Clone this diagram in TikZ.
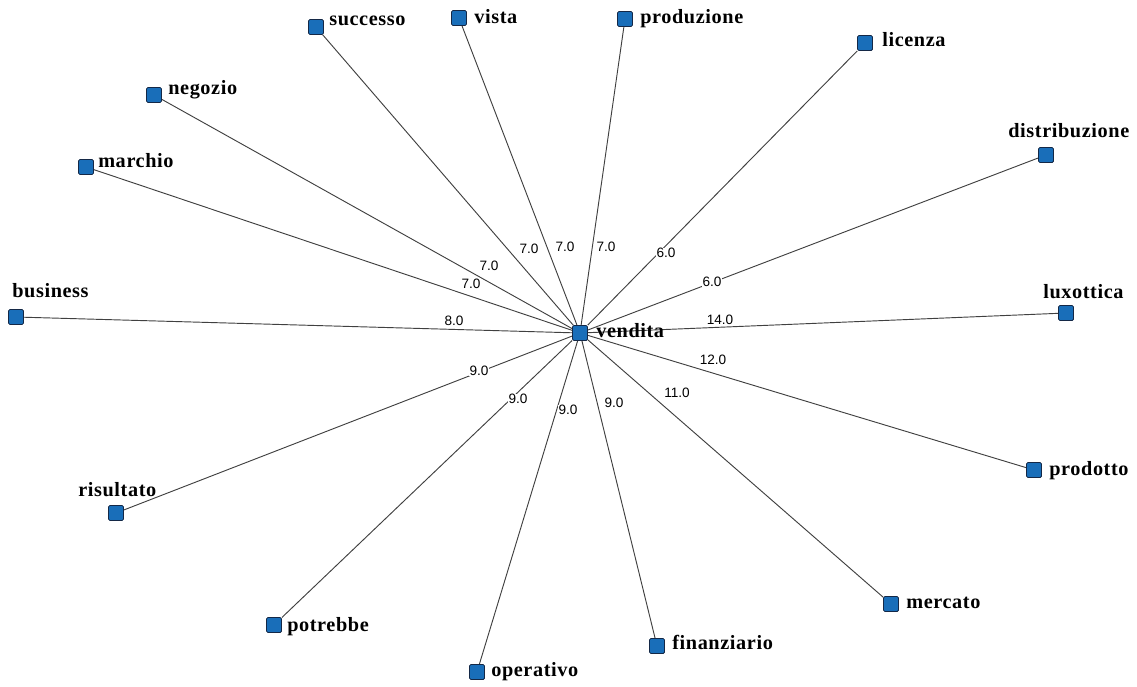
\documentclass[tikz,border=0pt]{standalone}
\usepackage{fontspec}
\setmainfont{Liberation Serif}
\newfontfamily\lblserif[LetterSpace=3]{Liberation Serif}
\newfontfamily\lblsans{Liberation Sans}
\definecolor{nodeblue}{RGB}{25,110,185}
\definecolor{nodeborder}{RGB}{20,40,70}
\pgfdeclarelayer{bg}
\pgfsetlayers{bg,main}
\begin{document}
\begin{tikzpicture}[x=0.75pt,y=-0.75pt,
  sq/.style={draw=nodeborder, fill=nodeblue, minimum size=11.25pt, inner sep=0pt, rounded corners=1pt, line width=0.6pt},
  lbl/.style={font=\lblserif\bfseries\fontsize{15.2}{15}\selectfont, anchor=base west, inner sep=0pt},
  elab/.style={font=\lblsans\fontsize{10.2}{11}\selectfont, fill=white, inner sep=0.5pt},
  link/.style={draw=black!75, line width=0.7pt}]
\useasboundingbox (0,0) rectangle (1137,686);
% nodes
\node[sq] (vendita) at (580,333) {};
\node[sq] (business) at (16,317) {};
\node[sq] (risultato) at (116,513) {};
\node[sq] (potrebbe) at (274,625) {};
\node[sq] (operativo) at (477,672) {};
\node[sq] (finanziario) at (657,646) {};
\node[sq] (mercato) at (891,604) {};
\node[sq] (prodotto) at (1034,470) {};
\node[sq] (luxottica) at (1066,313) {};
\node[sq] (distribuzione) at (1046,155) {};
\node[sq] (licenza) at (865,43) {};
\node[sq] (produzione) at (625,19) {};
\node[sq] (vista) at (459,18) {};
\node[sq] (successo) at (316,27) {};
\node[sq] (negozio) at (154,95) {};
\node[sq] (marchio) at (86,167) {};
% edges (behind the nodes)
\begin{pgfonlayer}{bg}
\foreach \n in {business,risultato,potrebbe,operativo,finanziario,mercato,prodotto,luxottica,distribuzione,licenza,produzione,vista,successo,negozio,marchio}
  \draw[link] (vendita) -- (\n);
\end{pgfonlayer}
% edge labels
\node[elab] (e1) at (529,249) {7.0};
\node[elab] (e2) at (565,247) {7.0};
\node[elab] (e3) at (606,247) {7.0};
\node[elab] (e4) at (666,253) {6.0};
\node[elab] (e5) at (712,282) {6.0};
\node[elab] (e6) at (720,320) {14.0};
\node[elab] (e7) at (713,360) {12.0};
\node[elab] (e8) at (677,393) {11.0};
\node[elab] (e9) at (614,403) {9.0};
\node[elab] (e10) at (568,410) {9.0};
\node[elab] (e11) at (518,399) {9.0};
\node[elab] (e12) at (479,371) {9.0};
\node[elab] (e13) at (454,321) {8.0};
\node[elab] (e14) at (471,284) {7.0};
\node[elab] (e15) at (489,266) {7.0};
% node labels
\node[lbl] (tvendita) at (596,337) {vendita};
\node[lbl] (tbusiness) at (12,297) {business};
\node[lbl] (trisultato) at (78,496) {risultato};
\node[lbl] (tpotrebbe) at (287,631) {potrebbe};
\node[lbl] (toperativo) at (491,676) {operativo};
\node[lbl] (tfinanziario) at (672,649) {finanziario};
\node[lbl] (tmercato) at (906,608) {mercato};
\node[lbl] (tprodotto) at (1049,475) {prodotto};
\node[lbl] (tluxottica) at (1043,298) {luxottica};
\node[lbl] (tdistribuzione) at (1008,137) {distribuzione};
\node[lbl] (tlicenza) at (882,46) {licenza};
\node[lbl] (tproduzione) at (640,23) {produzione};
\node[lbl] (tvista) at (474,23) {vista};
\node[lbl] (tsuccesso) at (329,25) {successo};
\node[lbl] (tnegozio) at (168,94) {negozio};
\node[lbl] (tmarchio) at (98,167) {marchio};
\end{tikzpicture}
\end{document}
